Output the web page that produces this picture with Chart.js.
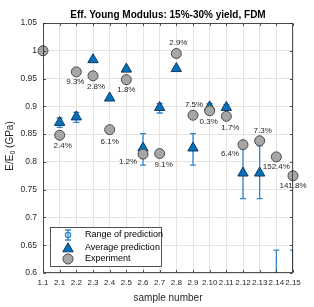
<!DOCTYPE html>
<html>
<head>
<meta charset="utf-8">
<script src="https://cdn.jsdelivr.net/npm/chart.js@4.4.1/dist/chart.umd.min.js"></script>
<style>
  html, body { margin: 0; padding: 0; background: #fff; }
  #wrap { width: 314px; height: 307px; }
</style>
</head>
<body>
<div id="wrap"><canvas id="myChart" width="314" height="307"></canvas></div>
<script>
const categories = ['1.1', '2.1', '2.2', '2.3', '2.4', '2.5', '2.6', '2.7', '2.8', '2.9', '2.10', '2.11', '2.12', '2.13', '2.14', '2.15'];
const experiment = [1.0, 0.848, 0.962, 0.955, 0.858, 0.948, 0.814, 0.815, 0.995, 0.884, 0.892, 0.882, 0.831, 0.838, 0.809, 0.775];
const avgPrediction = [null, 0.871, 0.881, 0.984, 0.915, 0.967, 0.825, 0.898, 0.968, 0.825, 0.899, 0.898, 0.780, 0.780, 0.55, 0.55];
const rangeLow = [null, 0.862, 0.871, 0.984, 0.911, 0.967, 0.794, 0.888, 0.968, 0.794, 0.895, 0.895, 0.734, 0.734, 0.46, 0.46];
const rangeHigh = [null, 0.879, 0.889, 0.984, 0.917, 0.967, 0.851, 0.905, 0.968, 0.851, 0.905, 0.903, 0.829, 0.829, 0.641, 0.641];
const errLabels = ['', '2.4%', '9.3%', '2.8%', '6.1%', '1.8%', '1.2%', '9.1%', '2.9%', '7.5%', '0.3%', '1.7%', '6.4%', '7.3%', '152.4%', '141.8%'];
const yTicks = [0.6, 0.65, 0.7, 0.75, 0.8, 0.85, 0.9, 0.95, 1, 1.05];

const FONT = "'Liberation Sans', Arial, Helvetica, sans-serif";
const BLUE = '#0072BD';
const BAR_BLUE = '#2f86cf';

// where each % label sits relative to its circle (px)
const labelOffsets = [
    [0, 0], [3, 11], [-1, 10], [3, 11], [0, 12], [0, 10], [-15, 8], [4, 11],
    [2, -11], [1, -10], [-1, 11], [4, 11], [-13, 9], [3, -10], [0, 10], [0, 10]
];

function fmt(v) {
    return parseFloat(v.toFixed(2)).toString();
}

const extras = {
    id: 'extras',
    beforeDatasetsDraw(chart) {
        const ctx = chart.ctx;
        const x = chart.scales.x, y = chart.scales.y;
        const a = chart.chartArea;
        ctx.save();
        ctx.beginPath();
        ctx.rect(a.left, a.top, a.right - a.left, a.bottom - a.top);
        ctx.clip();
        ctx.strokeStyle = BAR_BLUE;
        ctx.lineWidth = 1.3;
        for (let i = 0; i < categories.length; i++) {
            if (rangeLow[i] === null) continue;
            const px = x.getPixelForValue(i);
            const lo = y.getPixelForValue(rangeLow[i]);
            const hi = y.getPixelForValue(rangeHigh[i]);
            ctx.beginPath();
            ctx.moveTo(px, lo); ctx.lineTo(px, hi);
            ctx.moveTo(px - 3, lo); ctx.lineTo(px + 3, lo);
            ctx.moveTo(px - 3, hi); ctx.lineTo(px + 3, hi);
            ctx.stroke();
        }
        ctx.restore();
    },
    afterDraw(chart) {
        const ctx = chart.ctx;
        const x = chart.scales.x, y = chart.scales.y;
        const a = chart.chartArea;
        ctx.save();

        // percent labels
        ctx.fillStyle = '#262626';
        ctx.font = '8px ' + FONT;
        ctx.textAlign = 'center';
        ctx.textBaseline = 'middle';
        for (let i = 0; i < categories.length; i++) {
            if (!errLabels[i]) continue;
            const px = x.getPixelForValue(i) + labelOffsets[i][0];
            const py = y.getPixelForValue(experiment[i]) + labelOffsets[i][1];
            ctx.fillText(errLabels[i], px, py);
        }

        // box and inner ticks
        const L = Math.round(a.left) + 0.5, R = Math.round(a.right) - 0.5;
        const T = Math.round(a.top) + 0.5, B = Math.round(a.bottom) - 0.5;
        ctx.strokeStyle = '#262626';
        ctx.lineWidth = 0.8;
        ctx.strokeRect(L, T, R - L, B - T);
        ctx.beginPath();
        yTicks.forEach(v => {
            const py = Math.round(y.getPixelForValue(v)) + 0.5;
            ctx.moveTo(L, py); ctx.lineTo(L + 2.5, py);
            ctx.moveTo(R, py); ctx.lineTo(R - 2.5, py);
        });
        categories.forEach((c, i) => {
            const px = Math.round(x.getPixelForValue(i)) + 0.5;
            ctx.moveTo(px, B); ctx.lineTo(px, B - 2.5);
            ctx.moveTo(px, T); ctx.lineTo(px, T + 2.5);
        });
        ctx.stroke();

        // title
        ctx.fillStyle = '#000';
        ctx.font = 'bold 10px ' + FONT;
        ctx.textBaseline = 'middle';
        ctx.fillText('Eff. Young Modulus: 15%-30% yield, FDM', (a.left + a.right) / 2, 15);

        // x label
        ctx.fillStyle = '#262626';
        ctx.font = '10px ' + FONT;
        ctx.fillText('sample number', (a.left + a.right) / 2, 298);

        // y label with subscript
        ctx.save();
        ctx.translate(10.5, 146);
        ctx.rotate(-Math.PI / 2);
        ctx.textAlign = 'left';
        const p1 = 'E/E', p3 = ' (GPa)';
        ctx.font = '10px ' + FONT;
        const w1 = ctx.measureText(p1).width;
        const w3 = ctx.measureText(p3).width;
        ctx.font = '7px ' + FONT;
        const w2 = ctx.measureText('0').width;
        const start = -(w1 + w2 + w3) / 2;
        ctx.font = '10px ' + FONT;
        ctx.fillText(p1, start, 0);
        ctx.font = '7px ' + FONT;
        ctx.fillText('0', start + w1, 3);
        ctx.font = '10px ' + FONT;
        ctx.fillText(p3, start + w1 + w2, 0);
        ctx.restore();

        // legend
        const lx = 50.5, ly = 227.5, lw = 111, lh = 39;
        ctx.fillStyle = '#fff';
        ctx.fillRect(lx, ly, lw, lh);
        ctx.strokeStyle = '#262626';
        ctx.lineWidth = 0.8;
        ctx.strokeRect(lx, ly, lw, lh);
        const mx = 68;
        const rows = [235, 247.3, 259];
        // range marker
        ctx.strokeStyle = BAR_BLUE;
        ctx.lineWidth = 1.3;
        ctx.beginPath();
        ctx.moveTo(mx, rows[0] - 5); ctx.lineTo(mx, rows[0] + 5);
        ctx.moveTo(mx - 3, rows[0] - 5); ctx.lineTo(mx + 3, rows[0] - 5);
        ctx.moveTo(mx - 3, rows[0] + 5); ctx.lineTo(mx + 3, rows[0] + 5);
        ctx.stroke();
        ctx.beginPath();
        ctx.arc(mx, rows[0], 2.6, 0, Math.PI * 2);
        ctx.stroke();
        // triangle + circle markers
        ctx.lineWidth = 1;
        ctx.fillStyle = BLUE;
        ctx.strokeStyle = '#15395e';
        Chart.helpers.drawPoint(ctx, { pointStyle: 'triangle', radius: 6, borderWidth: 1 }, mx, rows[1] + 1.5);
        ctx.fillStyle = '#a6a6a6';
        ctx.strokeStyle = '#4a4a4a';
        Chart.helpers.drawPoint(ctx, { pointStyle: 'circle', radius: 5, borderWidth: 1 }, mx, rows[2]);
        ctx.fillStyle = '#000';
        ctx.font = '9px ' + FONT;
        ctx.textAlign = 'left';
        ctx.fillText('Range of prediction', 85, rows[0]);
        ctx.fillText('Average prediction', 85, rows[1]);
        ctx.fillText('Experiment', 85, rows[2]);

        ctx.restore();
    }
};

const ctx = document.getElementById('myChart').getContext('2d');
const myChart = new Chart(ctx, {
    type: 'line',
    data: {
        labels: categories,
        datasets: [{
            label: 'Experiment',
            data: experiment,
            showLine: false,
            clip: false,
            pointStyle: 'circle',
            pointRadius: 5,
            pointBackgroundColor: '#a6a6a6',
            pointBorderColor: '#4a4a4a',
            pointBorderWidth: 1,
            order: 0
        }, {
            label: 'Average prediction',
            data: avgPrediction,
            showLine: false,
            pointStyle: 'triangle',
            pointRadius: 6,
            pointBackgroundColor: BLUE,
            pointBorderColor: '#15395e',
            pointBorderWidth: 1,
            order: 1
        }]
    },
    options: {
        responsive: false,
        animation: false,
        events: [],
        layout: { padding: { left: 0, right: 21, top: 23, bottom: 0 } },
        plugins: {
            legend: { display: false },
            tooltip: { enabled: false },
            title: { display: false }
        },
        scales: {
            x: {
                type: 'category',
                offset: false,
                afterFit: s => { s.height = 34; },
                grid: { color: '#e4e4e4', drawTicks: false },
                border: { display: false },
                ticks: {
                    autoSkip: false,
                    maxRotation: 0,
                    padding: 5,
                    color: '#262626',
                    font: { family: FONT, size: 8 }
                }
            },
            y: {
                min: 0.6,
                max: 1.05,
                afterFit: s => { s.width = 43; },
                afterBuildTicks: s => { s.ticks = yTicks.map(v => ({ value: v })); },
                grid: { color: '#e4e4e4', drawTicks: false },
                border: { display: false },
                ticks: {
                    padding: 6,
                    color: '#262626',
                    font: { family: FONT, size: 8.5 },
                    callback: v => fmt(v)
                }
            }
        }
    },
    plugins: [extras]
});
</script>
</body>
</html>
